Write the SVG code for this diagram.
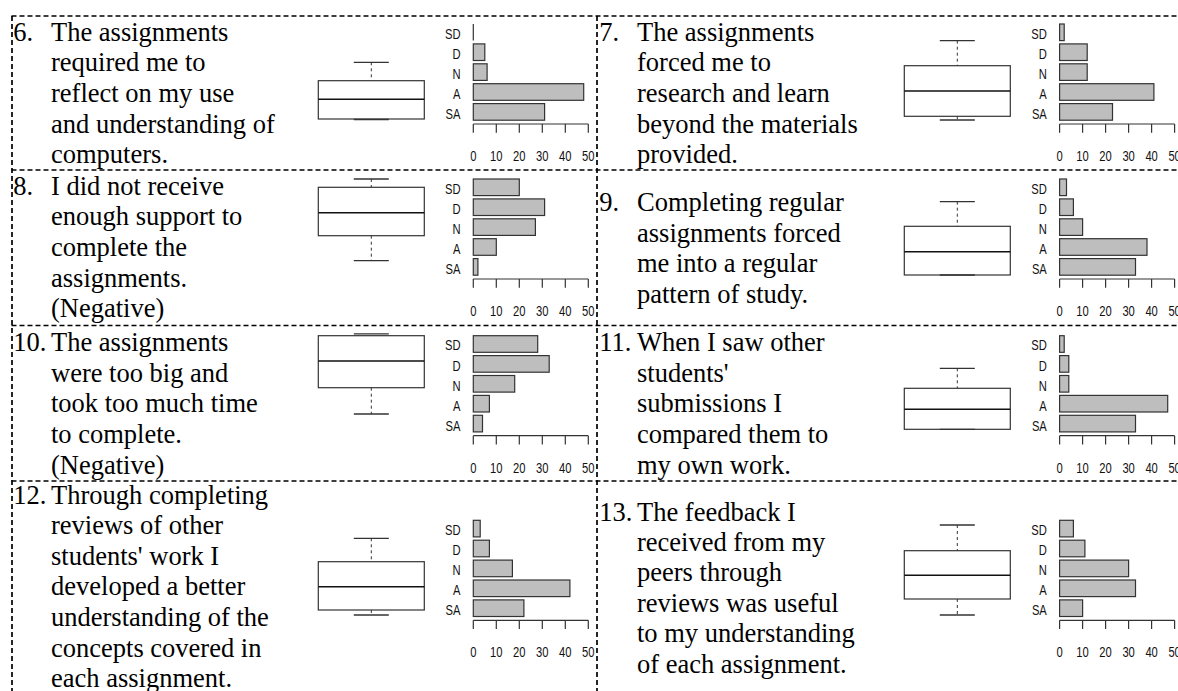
<svg xmlns="http://www.w3.org/2000/svg" xmlns:xlink="http://www.w3.org/1999/xlink" width="1178" height="691" viewBox="0 0 1178 691">
<style>
.t{font-family:"Liberation Serif","Times New Roman",serif;font-size:26.5px;fill:#000}
.l{font-family:"Liberation Sans",Arial,sans-serif;font-size:14px;fill:#111}
.bar{fill:#bebebe;stroke:#333;stroke-width:1.2}
.box{fill:#fff;stroke:#333;stroke-width:1.2}
.med{stroke:#111;stroke-width:1.4}
.wh{stroke:#333;stroke-width:1;stroke-dasharray:3 3}
.cap{stroke:#333;stroke-width:1.3}
.ax{stroke:#333;stroke-width:1.2;fill:none}
.grid{stroke:#000;stroke-width:1.7;stroke-dasharray:5 3;fill:none}
</style>
<defs>
<g id="axis">
<path class="ax" d="M0,0H115M0,0V8.7M23,0V8.7M46,0V8.7M69,0V8.7M92,0V8.7M115,0V8.7"/>
<g class="l" transform="scale(0.8,1)">
<text x="0" y="37" text-anchor="middle">0</text>
<text x="28.75" y="37" text-anchor="middle">10</text>
<text x="57.5" y="37" text-anchor="middle">20</text>
<text x="86.25" y="37" text-anchor="middle">30</text>
<text x="115" y="37" text-anchor="middle">40</text>
<text x="143.75" y="37" text-anchor="middle">50</text>
<text x="-16" y="-85.3" text-anchor="end">SD</text>
<text x="-16" y="-65.2" text-anchor="end">D</text>
<text x="-16" y="-45.1" text-anchor="end">N</text>
<text x="-16" y="-25.2" text-anchor="end">A</text>
<text x="-16" y="-5.2" text-anchor="end">SA</text>
</g>
</g>
</defs>

<g id="borders">
<path class="grid" d="M11.5,16H1178M11.5,170H1178M11.5,325.5H1178M11.5,481H1178"/>
<path class="grid" d="M12,16V691M597,16V691"/>
</g>

<g id="q6">
<text class="t" x="13.3" y="40.5">6.</text>
<text class="t" x="51" y="40.5">The assignments</text>
<text class="t" x="51" y="71.2">required me to</text>
<text class="t" x="51" y="101.9">reflect on my use</text>
<text class="t" x="51" y="132.6">and understanding of</text>
<text class="t" x="51" y="163.3">computers.</text>
<line class="wh" x1="371.3" y1="62.3" x2="371.3" y2="80.7"/>
<line class="cap" x1="353.8" y1="62.3" x2="388.8" y2="62.3"/>
<rect class="box" x="318.3" y="80.7" width="106" height="38.3"/>
<line class="med" x1="318.3" y1="99.3" x2="424.3" y2="99.3"/>
<line class="cap" x1="353.8" y1="119.5" x2="388.8" y2="119.5" stroke-width="2"/>
<line class="ax" x1="473.3" y1="24" x2="473.3" y2="40.6"/>
<rect class="bar" x="473.3" y="43.9" width="11.5" height="16.6"/>
<rect class="bar" x="473.3" y="63.8" width="13.8" height="16.6"/>
<rect class="bar" x="473.3" y="83.7" width="110.4" height="16.6"/>
<rect class="bar" x="473.3" y="103.6" width="71.3" height="16.6"/>
<use xlink:href="#axis" x="473.3" y="124"/>
</g>

<g id="q7">
<text class="t" x="599.3" y="40.5">7.</text>
<text class="t" x="637" y="40.5">The assignments</text>
<text class="t" x="637" y="71.2">forced me to</text>
<text class="t" x="637" y="101.9">research and learn</text>
<text class="t" x="637" y="132.6">beyond the materials</text>
<text class="t" x="637" y="163.3">provided.</text>
<line class="wh" x1="957.3" y1="40.7" x2="957.3" y2="65.7"/>
<line class="cap" x1="939.8" y1="40.7" x2="974.8" y2="40.7"/>
<line class="wh" x1="957.3" y1="116.3" x2="957.3" y2="120"/>
<line class="cap" x1="939.8" y1="120" x2="974.8" y2="120"/>
<rect class="box" x="904.3" y="65.7" width="106" height="50.6"/>
<line class="med" x1="904.3" y1="91" x2="1010.3" y2="91"/>
<rect class="bar" x="1059.6" y="24" width="4.6" height="16.6"/>
<rect class="bar" x="1059.6" y="43.9" width="27.6" height="16.6"/>
<rect class="bar" x="1059.6" y="63.8" width="27.6" height="16.6"/>
<rect class="bar" x="1059.6" y="83.7" width="94.3" height="16.6"/>
<rect class="bar" x="1059.6" y="103.6" width="52.9" height="16.6"/>
<use xlink:href="#axis" x="1059.6" y="124"/>
</g>

<g id="q8">
<text class="t" x="13.3" y="194.5">8.</text>
<text class="t" x="51" y="194.5">I did not receive</text>
<text class="t" x="51" y="225.2">enough support to</text>
<text class="t" x="51" y="255.9">complete the</text>
<text class="t" x="51" y="286.6">assignments.</text>
<text class="t" x="51" y="317.3">(Negative)</text>
<line class="wh" x1="371.3" y1="179" x2="371.3" y2="187.3"/>
<line class="cap" x1="353.8" y1="179" x2="388.8" y2="179"/>
<line class="wh" x1="371.3" y1="235.7" x2="371.3" y2="260.7"/>
<line class="cap" x1="353.8" y1="260.7" x2="388.8" y2="260.7"/>
<rect class="box" x="318.3" y="187.3" width="106" height="48.4"/>
<line class="med" x1="318.3" y1="212.7" x2="424.3" y2="212.7"/>
<rect class="bar" x="473.3" y="179" width="46" height="16.6"/>
<rect class="bar" x="473.3" y="198.9" width="71.3" height="16.6"/>
<rect class="bar" x="473.3" y="218.8" width="62.1" height="16.6"/>
<rect class="bar" x="473.3" y="238.7" width="23" height="16.6"/>
<rect class="bar" x="473.3" y="258.6" width="4.6" height="16.6"/>
<use xlink:href="#axis" x="473.3" y="279"/>
</g>

<g id="q9">
<text class="t" x="599.3" y="210.8">9.</text>
<text class="t" x="637" y="210.8">Completing regular</text>
<text class="t" x="637" y="241.5">assignments forced</text>
<text class="t" x="637" y="272.2">me into a regular</text>
<text class="t" x="637" y="302.9">pattern of study.</text>
<line class="wh" x1="957.3" y1="201.7" x2="957.3" y2="226.3"/>
<line class="cap" x1="939.8" y1="201.7" x2="974.8" y2="201.7"/>
<rect class="box" x="904.3" y="226.3" width="106" height="48.7"/>
<line class="med" x1="904.3" y1="251.7" x2="1010.3" y2="251.7"/>
<line class="cap" x1="939.8" y1="275" x2="974.8" y2="275"/>
<rect class="bar" x="1059.6" y="179" width="6.9" height="16.6"/>
<rect class="bar" x="1059.6" y="198.9" width="13.8" height="16.6"/>
<rect class="bar" x="1059.6" y="218.8" width="23" height="16.6"/>
<rect class="bar" x="1059.6" y="238.7" width="87.4" height="16.6"/>
<rect class="bar" x="1059.6" y="258.6" width="75.9" height="16.6"/>
<use xlink:href="#axis" x="1059.6" y="279"/>
</g>

<g id="q10">
<text class="t" x="13.3" y="351">10.</text>
<text class="t" x="51" y="351">The assignments</text>
<text class="t" x="51" y="381.7">were too big and</text>
<text class="t" x="51" y="412.4">took too much time</text>
<text class="t" x="51" y="443.1">to complete.</text>
<text class="t" x="51" y="473.8">(Negative)</text>
<line class="cap" x1="353.8" y1="333.8" x2="388.8" y2="333.8"/>
<line class="wh" x1="371.3" y1="387.7" x2="371.3" y2="414"/>
<line class="cap" x1="353.8" y1="414" x2="388.8" y2="414"/>
<rect class="box" x="318.3" y="335.7" width="106" height="52"/>
<line class="med" x1="318.3" y1="361" x2="424.3" y2="361"/>
<rect class="bar" x="473.3" y="335.7" width="64.4" height="16.6"/>
<rect class="bar" x="473.3" y="355.6" width="75.9" height="16.6"/>
<rect class="bar" x="473.3" y="375.5" width="41.4" height="16.6"/>
<rect class="bar" x="473.3" y="395.4" width="16.1" height="16.6"/>
<rect class="bar" x="473.3" y="415.3" width="9.2" height="16.6"/>
<use xlink:href="#axis" x="473.3" y="435.7"/>
</g>

<g id="q11">
<text class="t" x="599.3" y="351">11.</text>
<text class="t" x="637" y="351">When I saw other</text>
<text class="t" x="637" y="381.7">students'</text>
<text class="t" x="637" y="412.4">submissions I</text>
<text class="t" x="637" y="443.1">compared them to</text>
<text class="t" x="637" y="473.8">my own work.</text>
<line class="wh" x1="957.3" y1="368.3" x2="957.3" y2="388.3"/>
<line class="cap" x1="939.8" y1="368.3" x2="974.8" y2="368.3"/>
<rect class="box" x="904.3" y="388.3" width="106" height="41"/>
<line class="med" x1="904.3" y1="409.3" x2="1010.3" y2="409.3"/>
<line class="cap" x1="939.8" y1="429.3" x2="974.8" y2="429.3"/>
<rect class="bar" x="1059.6" y="335.7" width="4.6" height="16.6"/>
<rect class="bar" x="1059.6" y="355.6" width="9.2" height="16.6"/>
<rect class="bar" x="1059.6" y="375.5" width="9.2" height="16.6"/>
<rect class="bar" x="1059.6" y="395.4" width="108.1" height="16.6"/>
<rect class="bar" x="1059.6" y="415.3" width="75.9" height="16.6"/>
<use xlink:href="#axis" x="1059.6" y="435.7"/>
</g>

<g id="q12">
<text class="t" x="13.3" y="503.5">12.</text>
<text class="t" x="51" y="503.5">Through completing</text>
<text class="t" x="51" y="534.1">reviews of other</text>
<text class="t" x="51" y="564.7">students' work I</text>
<text class="t" x="51" y="595.3">developed a better</text>
<text class="t" x="51" y="625.9">understanding of the</text>
<text class="t" x="51" y="656.5">concepts covered in</text>
<text class="t" x="51" y="687.1">each assignment.</text>
<line class="wh" x1="371.3" y1="538.3" x2="371.3" y2="561.7"/>
<line class="cap" x1="353.8" y1="538.3" x2="388.8" y2="538.3"/>
<line class="wh" x1="371.3" y1="610" x2="371.3" y2="615"/>
<line class="cap" x1="353.8" y1="615" x2="388.8" y2="615"/>
<rect class="box" x="318.3" y="561.7" width="106" height="48.3"/>
<line class="med" x1="318.3" y1="586.7" x2="424.3" y2="586.7"/>
<rect class="bar" x="473.3" y="520.3" width="6.9" height="16.6"/>
<rect class="bar" x="473.3" y="540.2" width="16.1" height="16.6"/>
<rect class="bar" x="473.3" y="560.1" width="39.1" height="16.6"/>
<rect class="bar" x="473.3" y="580" width="96.6" height="16.6"/>
<rect class="bar" x="473.3" y="599.9" width="50.6" height="16.6"/>
<use xlink:href="#axis" x="473.3" y="620.3"/>
</g>

<g id="q13">
<text class="t" x="599.3" y="520.5">13.</text>
<text class="t" x="637" y="520.5">The feedback I</text>
<text class="t" x="637" y="550.9">received from my</text>
<text class="t" x="637" y="581.3">peers through</text>
<text class="t" x="637" y="611.7">reviews was useful</text>
<text class="t" x="637" y="642.1">to my understanding</text>
<text class="t" x="637" y="672.5">of each assignment.</text>
<line class="wh" x1="957.3" y1="525" x2="957.3" y2="550.7"/>
<line class="cap" x1="939.8" y1="525" x2="974.8" y2="525"/>
<line class="wh" x1="957.3" y1="599" x2="957.3" y2="615"/>
<line class="cap" x1="939.8" y1="615" x2="974.8" y2="615"/>
<rect class="box" x="904.3" y="550.7" width="106" height="48.3"/>
<line class="med" x1="904.3" y1="575.3" x2="1010.3" y2="575.3"/>
<rect class="bar" x="1059.6" y="520.3" width="13.8" height="16.6"/>
<rect class="bar" x="1059.6" y="540.2" width="25.3" height="16.6"/>
<rect class="bar" x="1059.6" y="560.1" width="69" height="16.6"/>
<rect class="bar" x="1059.6" y="580" width="75.9" height="16.6"/>
<rect class="bar" x="1059.6" y="599.9" width="23" height="16.6"/>
<use xlink:href="#axis" x="1059.6" y="620.3"/>
</g>
</svg>
